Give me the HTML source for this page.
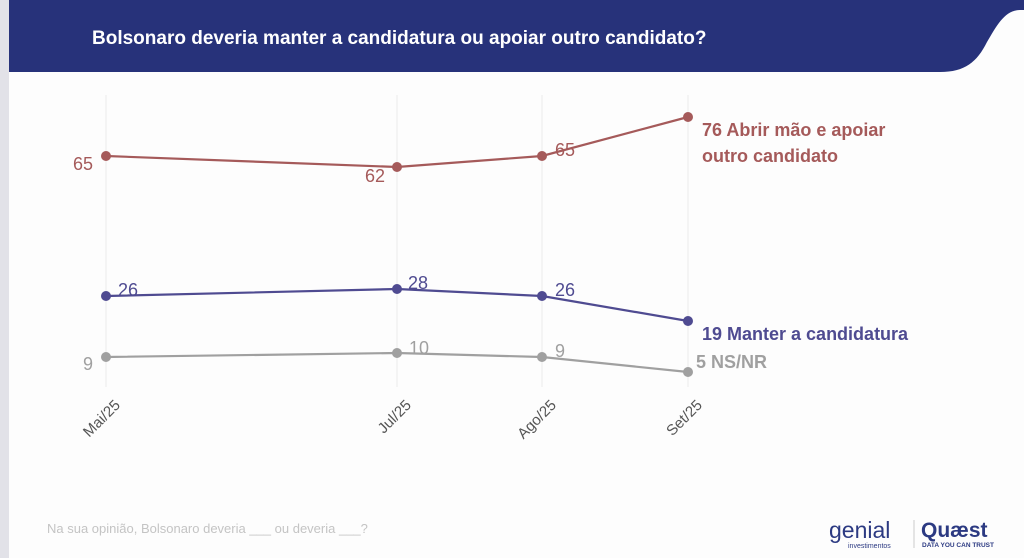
<!DOCTYPE html>
<html><head><meta charset="utf-8"><style>
html,body{margin:0;padding:0;background:#fdfdfd;width:1024px;height:558px;overflow:hidden;font-family:"Liberation Sans",sans-serif;}
</style></head><body>
<svg width="1024" height="558" xmlns="http://www.w3.org/2000/svg" style="position:absolute;left:0;top:0">
<rect x="0" y="0" width="1024" height="558" fill="#fdfdfd"/>
<rect x="0" y="0" width="9" height="558" fill="#e2e2e8"/>
<path d="M9,0 H1024 V10 H1020 C1005,10 997,25 987,42 C977,62 965,72 940,72 H9 Z" fill="#27327a"/>
<text x="92" y="44" fill="#ffffff" font-size="19" font-weight="bold" font-family="Liberation Sans, sans-serif">Bolsonaro deveria manter a candidatura ou apoiar outro candidato?</text>
<g stroke="#ebebeb" stroke-width="1">
<line x1="106" y1="95" x2="106" y2="387"/>
<line x1="397" y1="95" x2="397" y2="387"/>
<line x1="542" y1="95" x2="542" y2="387"/>
<line x1="688" y1="95" x2="688" y2="387"/>
</g>
<polyline points="106,156 397,167 542,156 688,117" fill="none" stroke="#a55a5a" stroke-width="2.2"/>
<polyline points="106,296 397,289 542,296 688,321" fill="none" stroke="#4f4b91" stroke-width="2.2"/>
<polyline points="106,357 397,353 542,357 688,372" fill="none" stroke="#a0a0a0" stroke-width="2.2"/>
<g fill="#a55a5a"><circle cx="106" cy="156" r="5"/><circle cx="397" cy="167" r="5"/><circle cx="542" cy="156" r="5"/><circle cx="688" cy="117" r="5"/></g>
<g fill="#4f4b91"><circle cx="106" cy="296" r="5"/><circle cx="397" cy="289" r="5"/><circle cx="542" cy="296" r="5"/><circle cx="688" cy="321" r="5"/></g>
<g fill="#a0a0a0"><circle cx="106" cy="357" r="5"/><circle cx="397" cy="353" r="5"/><circle cx="542" cy="357" r="5"/><circle cx="688" cy="372" r="5"/></g>
<g font-size="18" font-family="Liberation Sans, sans-serif">
<text x="73" y="170" fill="#a55a5a">65</text>
<text x="365" y="182" fill="#a55a5a">62</text>
<text x="555" y="156" fill="#a55a5a">65</text>
<text x="118" y="296" fill="#4f4b91">26</text>
<text x="408" y="289" fill="#4f4b91">28</text>
<text x="555" y="296" fill="#4f4b91">26</text>
<text x="83" y="370" fill="#a0a0a0">9</text>
<text x="409" y="354" fill="#a0a0a0">10</text>
<text x="555" y="357" fill="#a0a0a0">9</text>
</g>
<g font-size="18" font-weight="bold" font-family="Liberation Sans, sans-serif">
<text x="702" y="136" fill="#a55a5a">76 Abrir mão e apoiar</text>
<text x="702" y="162" fill="#a55a5a">outro candidato</text>
<text x="702" y="340" fill="#4f4b91">19 Manter a candidatura</text>
<text x="696" y="368" fill="#a0a0a0">5 NS/NR</text>
</g>
<g font-size="15" fill="#555" font-family="Liberation Sans, sans-serif" text-anchor="end">
<text transform="translate(121,406) rotate(-45)">Mai/25</text>
<text transform="translate(412,406) rotate(-45)">Jul/25</text>
<text transform="translate(557,406) rotate(-45)">Ago/25</text>
<text transform="translate(703,406) rotate(-45)">Set/25</text>
</g>
<text x="47" y="533" font-size="13" fill="#c4c4c4" font-family="Liberation Sans, sans-serif">Na sua opinião, Bolsonaro deveria ___ ou deveria ___?</text>
<text x="829" y="538" font-size="23" fill="#2c3a82" font-family="Liberation Sans, sans-serif">genial</text>
<text x="848" y="548" font-size="7" fill="#2c3a82" font-family="Liberation Sans, sans-serif">investimentos</text>
<line x1="914" y1="520" x2="914" y2="548" stroke="#ccc"/>
<text x="921" y="537" font-size="21" font-weight="bold" fill="#2c3a82" font-family="Liberation Sans, sans-serif">Quæst</text>
<text x="922" y="547" font-size="6.5" font-weight="bold" fill="#2c3a82" font-family="Liberation Sans, sans-serif">DATA YOU CAN TRUST</text>
</svg>
</body></html>
